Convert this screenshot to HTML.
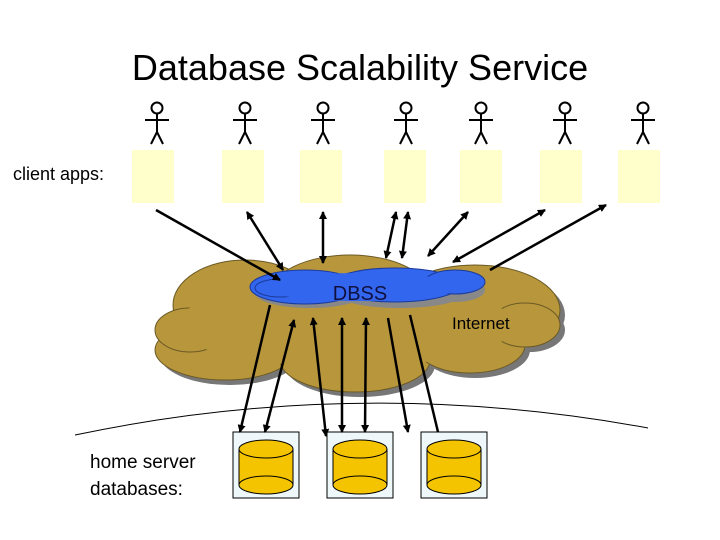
<!DOCTYPE html>
<html><head><style>
body{margin:0;background:#fff;}
svg{display:block;font-family:"Liberation Sans",Arial,sans-serif;}
</style></head><body>
<svg width="720" height="540" viewBox="0 0 720 540" xmlns="http://www.w3.org/2000/svg">
<defs>
<marker id="a" markerWidth="8" markerHeight="8" refX="7" refY="4" orient="auto-start-reverse" markerUnits="userSpaceOnUse"><path d="M0,0 L8,4 L0,8 z" fill="#000"/></marker>
<g id="man" stroke="#000" stroke-width="2" fill="none">
<circle cx="0" cy="-36" r="5.5" fill="#fff"/><line x1="0" y1="-30" x2="0" y2="-12"/><line x1="-12" y1="-24" x2="12" y2="-24"/><line x1="0" y1="-12" x2="-6" y2="0"/><line x1="0" y1="-12" x2="6" y2="0"/>
</g>
<g id="db">
<rect x="0" y="0" width="66" height="66" fill="#eef8fb" stroke="#000" stroke-width="1"/>
<path d="M6,17 v36 a27,9 0 0 0 54,0 v-36" fill="#f5c400" stroke="#000"/>
<ellipse cx="33" cy="17" rx="27" ry="9" fill="#f5c400" stroke="#000"/>
<path d="M6,53 a27,9 0 0 1 54,0" fill="none" stroke="#000"/>
</g>
</defs>
<text x="360" y="80" font-size="36" text-anchor="middle">Database Scalability Service</text>
<g>
<use href="#man" x="157" y="144"/><use href="#man" x="245" y="144"/><use href="#man" x="323" y="144"/><use href="#man" x="406" y="144"/><use href="#man" x="481" y="144"/><use href="#man" x="565" y="144"/><use href="#man" x="643" y="144"/>
</g>
<g fill="#ffffcc">
<rect x="132" y="150" width="42" height="53"/><rect x="222" y="150" width="42" height="53"/><rect x="300" y="150" width="42" height="53"/><rect x="384" y="150" width="42" height="53"/><rect x="460" y="150" width="42" height="53"/><rect x="540" y="150" width="42" height="53"/><rect x="618" y="150" width="42" height="53"/>
</g>
<text x="13" y="180" font-size="18">client apps:</text>
<!-- cloud -->
<g fill="#777">
<ellipse cx="250" cy="310" rx="72" ry="45"/><ellipse cx="355" cy="300" rx="80" ry="40"/><ellipse cx="480" cy="315" rx="85" ry="45"/><ellipse cx="230" cy="355" rx="70" ry="30"/><ellipse cx="360" cy="365" rx="75" ry="32"/><ellipse cx="475" cy="350" rx="55" ry="28"/><ellipse cx="195" cy="335" rx="35" ry="22"/><ellipse cx="530" cy="330" rx="35" ry="22"/>
</g>
<g fill="#b8963c" stroke="#6b5a25" stroke-width="1">
<ellipse cx="245" cy="305" rx="72" ry="45"/><ellipse cx="350" cy="295" rx="80" ry="40"/><ellipse cx="475" cy="310" rx="85" ry="45"/><ellipse cx="225" cy="350" rx="70" ry="30"/><ellipse cx="355" cy="360" rx="75" ry="32"/><ellipse cx="470" cy="345" rx="55" ry="28"/><ellipse cx="190" cy="330" rx="35" ry="22"/><ellipse cx="525" cy="325" rx="35" ry="22"/>
</g>
<g fill="#b8963c"><ellipse cx="345" cy="325" rx="170" ry="42"/></g>
<!-- DBSS cloud -->
<g fill="#888">
<ellipse cx="310" cy="293" rx="55" ry="15"/><ellipse cx="400" cy="293" rx="65" ry="15"/><ellipse cx="455" cy="290" rx="30" ry="12"/>
</g>
<g fill="#3366ee" stroke="#1a3a99" stroke-width="1">
<ellipse cx="305" cy="287" rx="55" ry="17"/><ellipse cx="395" cy="285" rx="65" ry="17"/><ellipse cx="455" cy="282" rx="30" ry="12"/><ellipse cx="280" cy="288" rx="25" ry="9"/>
</g>
<g fill="#3366ee"><ellipse cx="360" cy="287" rx="100" ry="14"/></g>
<text x="360" y="300" font-size="20" text-anchor="middle" fill="#101040">DBSS</text>
<text x="452" y="329" font-size="17">Internet</text>
<!-- horizon -->
<path d="M75,435 Q360,375 648,428" fill="none" stroke="#000" stroke-width="1"/>
<text x="90" y="468" font-size="19">home server</text>
<text x="90" y="495" font-size="19">databases:</text>
<use href="#db" x="233" y="432"/><use href="#db" x="327" y="432"/><use href="#db" x="421" y="432"/>
<!-- arrows -->
<g stroke="#000" stroke-width="2.5" fill="none">
<line x1="156" y1="210" x2="280" y2="280" marker-end="url(#a)"/>
<line x1="247" y1="212" x2="283" y2="270" marker-start="url(#a)" marker-end="url(#a)"/>
<line x1="323" y1="212" x2="323" y2="263" marker-start="url(#a)" marker-end="url(#a)"/>
<line x1="396" y1="212" x2="386" y2="258" marker-start="url(#a)" marker-end="url(#a)"/>
<line x1="408" y1="212" x2="402" y2="258" marker-start="url(#a)" marker-end="url(#a)"/>
<line x1="468" y1="212" x2="428" y2="256" marker-start="url(#a)" marker-end="url(#a)"/>
<line x1="545" y1="210" x2="453" y2="262" marker-start="url(#a)" marker-end="url(#a)"/>
<line x1="606" y1="205" x2="490" y2="270" marker-start="url(#a)"/>
<line x1="270" y1="305" x2="240" y2="432" marker-end="url(#a)"/>
<line x1="294" y1="320" x2="265" y2="432" marker-start="url(#a)" marker-end="url(#a)"/>
<line x1="313" y1="318" x2="326" y2="436" marker-start="url(#a)" marker-end="url(#a)"/>
<line x1="342" y1="318" x2="342" y2="432" marker-start="url(#a)" marker-end="url(#a)"/>
<line x1="366" y1="318" x2="365" y2="432" marker-start="url(#a)" marker-end="url(#a)"/>
<line x1="388" y1="318" x2="408" y2="432" marker-end="url(#a)"/>
<line x1="410" y1="315" x2="438" y2="432"/>
</g>
</svg>
</body></html>
